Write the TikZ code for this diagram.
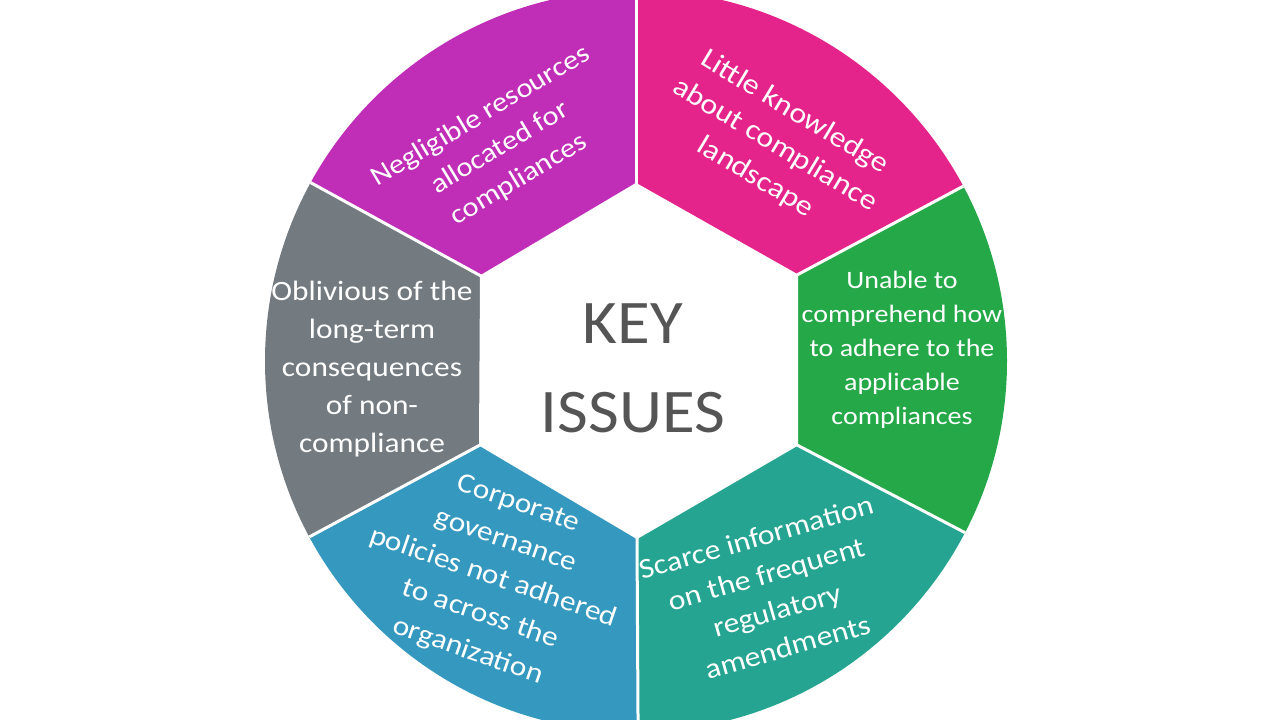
\documentclass[tikz,border=0pt]{standalone}
\usepackage{fontspec}
\setmainfont{Carlito}
\newfontfamily\lblfont[FakeStretch=1.12]{Carlito}
\newfontfamily\titlefont[FakeStretch=1.08]{Carlito}
\usetikzlibrary{calc}
\definecolor{cpurple}{RGB}{192,46,184}
\definecolor{cpink}{RGB}{228,36,138}
\definecolor{cgreen}{RGB}{36,168,72}
\definecolor{cteal}{RGB}{37,165,145}
\definecolor{cblue}{RGB}{52,152,191}
\definecolor{cgray}{RGB}{115,123,128}
\definecolor{ctitle}{RGB}{85,85,85}
\begin{document}
\begin{tikzpicture}[x=1pt,y=-1pt,
  lbl/.style={text=white, align=center, inner sep=0pt, font=\lblfont\fontsize{28}{37}\selectfont},
  sep/.style={white, line width=3pt},
  title/.style={text=ctitle, inner sep=0pt, anchor=base, font=\titlefont\fontsize{62}{74}\selectfont}]
\useasboundingbox (0,0) rectangle (1280,720);
\fill[white] (0,0) rectangle (1280,720);
\coordinate (O) at (636,361);
\coordinate (T) at (636,184);
\coordinate (UR) at (797,275);
\coordinate (LR) at (797,445);
\coordinate (B) at (637,538);
\coordinate (LL) at (480,445);
\coordinate (UL) at (481,276);
\begin{scope}
\clip (O) circle (371);
\fill[cpink]   (T) -- (UR) -- ($(O)!4!(UR)$) -- ($(O)!4!(T)$) -- cycle;
\fill[cgreen]  (UR) -- (LR) -- ($(O)!4!(LR)$) -- ($(O)!4!(UR)$) -- cycle;
\fill[cteal]   (LR) -- (B) -- ($(O)!4!(B)$) -- ($(O)!4!(LR)$) -- cycle;
\fill[cblue]   (B) -- (LL) -- ($(O)!4!(LL)$) -- ($(O)!4!(B)$) -- cycle;
\fill[cgray]   (LL) -- (UL) -- ($(O)!4!(UL)$) -- ($(O)!4!(LL)$) -- cycle;
\fill[cpurple] (UL) -- (T) -- ($(O)!4!(T)$) -- ($(O)!4!(UL)$) -- cycle;
\foreach \v in {T,UR,LR,B,LL,UL} \draw[sep] (\v) -- ($(O)!4!(\v)$);
\end{scope}
\draw[white, line width=2pt, line join=round] (T) -- (UR) -- (LR) -- (B) -- (LL) -- (UL) -- cycle;
\node[title] (key) at (633,343) {KEY};
\node[title] (issues) at (633,432) {ISSUES};
\node[lbl, rotate=31, font=\lblfont\fontsize{27.3}{37}\selectfont] (neg) at (500,148) {Negligible resources\\allocated for\\compliances};
\node[lbl, rotate=-31, font=\lblfont\fontsize{28.6}{38}\selectfont] (lit) at (775,145) {Little knowledge\\about compliance\\landscape};
\node[lbl, font=\lblfont\fontsize{25}{34}\selectfont] (una) at (902,350) {Unable to\\comprehend how\\to adhere to the\\applicable\\compliances};
\node[lbl, rotate=16, font=\lblfont\fontsize{28.3}{38}\selectfont] (sca) at (772,592) {Scarce information\\on the frequent\\regulatory\\amendments};
\node[lbl, rotate=-19, font=\lblfont\fontsize{28}{39}\selectfont] (cor) at (493,578) {Corporate\\governance\\policies not adhered\\to across the\\organization};
\node[lbl, font=\lblfont\fontsize{28}{38}\selectfont] (obl) at (372,369) {Oblivious of the\\long-term\\consequences\\of non-\\compliance};
\end{tikzpicture}
\end{document}
